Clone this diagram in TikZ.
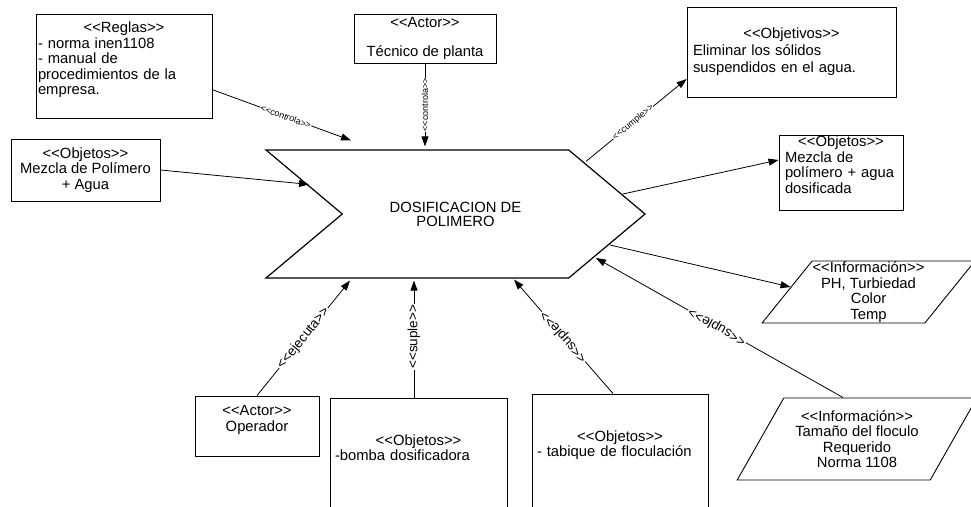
\documentclass[tikz,border=0pt]{standalone}
\usepackage{fontspec}
\setmainfont{Liberation Sans}[Ligatures=TeXOff]
\usetikzlibrary{arrows.meta, shapes.geometric, shapes.symbols}

% stereotype labels, <<...>>
\newcommand{\stereo}[1]{<<#1>>}
\newcommand{\hdr}[1]{\makebox[\linewidth]{\stereo{#1}}}

\begin{document}
\begin{tikzpicture}[x=1pt, y=1pt,
    box/.style={draw, line width=0.9pt, rectangle, inner sep=0pt, font=\fontsize{14.8}{15.5}\selectfont},
    info/.style={draw, line width=0.9pt, trapezium, trapezium stretches=true, align=center, inner sep=0pt, font=\fontsize{14.8}{15.5}\selectfont},
    flecha/.style={line width=0.8pt, -{Triangle[length=10pt, width=7pt]}},
    rotulo/.style={fill=white, inner sep=1pt, font=\fontsize{13.5}{14}\selectfont},
    chico/.style={fill=white, inner sep=0.5pt, font=\fontsize{9}{9}\selectfont}]
    \useasboundingbox (0,0) rectangle (971,506);
    \clip (0,0) rectangle (971,506);

    % proceso central
    \node[signal, signal to=east, signal from=west, signal pointer angle=80, draw, line width=1.2pt,
          minimum width=379pt, minimum height=128pt, inner sep=0pt, align=center,
          font=\fontsize{14.8}{14}\selectfont] at (455.5,292) (proc) {DOSIFICACION DE\\POLIMERO};

    % entradas y controles
    \node[box, text width=172pt, inner xsep=2pt, minimum height=104pt, align=left] at (124,440) (reglas)
        {\hdr{Reglas}\\- norma inen1108\\- manual de\\procedimientos de la\\empresa.\\~};
    \node[box, minimum width=149pt, minimum height=62pt, align=center] at (85.5,336) (mezcla)
        {\stereo{Objetos}\\Mezcla de Polímero\\+ Agua};
    \node[box, minimum width=142pt, minimum height=49pt, align=center,
          font=\fontsize{14.8}{14.5}\selectfont] at (425,467.5) (tecnico)
        {\stereo{Actor}\\~\\Técnico de planta};

    % salidas
    \node[box, text width=197pt, inner xsep=6pt, minimum height=90pt, align=left,
          font=\fontsize{14.8}{17}\selectfont] at (791.5,454) (objetivos)
        {\hdr{Objetivos}\\Eliminar los sólidos\\suspendidos en el agua.};
    \node[box, text width=112pt, inner xsep=6pt, minimum height=75pt, align=left] at (841,333.5) (salida)
        {\hdr{Objetos}\\Mezcla de\\polímero + agua\\dosificada\\~};
    \node[info, minimum width=213pt, minimum height=62pt, trapezium left angle=50.6,
          trapezium right angle=129.4] at (868.5,214) (param)
        {\stereo{Información}\\PH, Turbiedad\\Color\\Temp};
    \node[info, minimum width=240pt, minimum height=82pt, trapezium left angle=55.7,
          trapezium right angle=124.3] at (857,67) (floculo)
        {\stereo{Información}\\Tamaño del floculo\\Requerido\\Norma 1108};

    % mecanismos
    \node[box, minimum width=124pt, minimum height=60pt, align=center] at (257,80) (operador)
        {\stereo{Actor}\\Operador\\~};
    \node[box, text width=167pt, inner xsep=5pt, minimum height=150pt, text depth=66pt, align=left] at (418.5,33) (bomba)
        {\hdr{Objetos}\\-bomba dosificadora};
    \node[box, text width=166pt, inner xsep=5pt, minimum height=150pt, text depth=66pt, align=left] at (620,37) (tabique)
        {\hdr{Objetos}\\- tabique de floculación};

    \draw [flecha] (reglas.-15) -- ([xshift=-104.5pt,yshift=9pt]proc.north)
        node[chico, sloped, pos=.53] {\stereo{controla}};
    \draw [flecha] (mezcla.east) -- ([xshift=-146.5pt,yshift=-35pt]proc.north);
    \draw [flecha] (tecnico.south) -- ([xshift=-30.5pt,yshift=3pt]proc.north)
        node[chico, rotate=90, pos=.5] {\stereo{controla}};
    \draw [flecha] ([xshift=130.5pt,yshift=-12pt]proc.north) -- ([yshift=-27pt]objetivos.west)
        node[chico, sloped, pos=.47] {\stereo{cumple}};
    \draw [flecha] ([xshift=-23pt,yshift=20pt]proc.east) -- ([yshift=12.5pt]salida.west);
    \draw [flecha] ([xshift=-36pt,yshift=-31pt]proc.east) -- ([xshift=4pt,yshift=5pt]param.west);
    \draw [flecha] ([xshift=-14pt]floculo.north) -- ([xshift=-50pt,yshift=-44pt]proc.east)
        node[rotulo, sloped, allow upside down, pos=.51] {\stereo{suple}};
    \draw [flecha] (operador.north) -- ([xshift=-105.5pt,yshift=-2pt]proc.south)
        node[rotulo, sloped, pos=.5] {\stereo{ejecuta}};
    \draw [flecha] ([xshift=-4.5pt]bomba.north) -- ([xshift=-41.5pt,yshift=-2pt]proc.south)
        node[rotulo, sloped, pos=.52] {\stereo{suple}};
    \draw [flecha] ([xshift=-7pt]tabique.north) -- ([xshift=58.5pt,yshift=-1pt]proc.south)
        node[rotulo, sloped, allow upside down, pos=.5] {\stereo{suple}};
\end{tikzpicture}
\end{document}
